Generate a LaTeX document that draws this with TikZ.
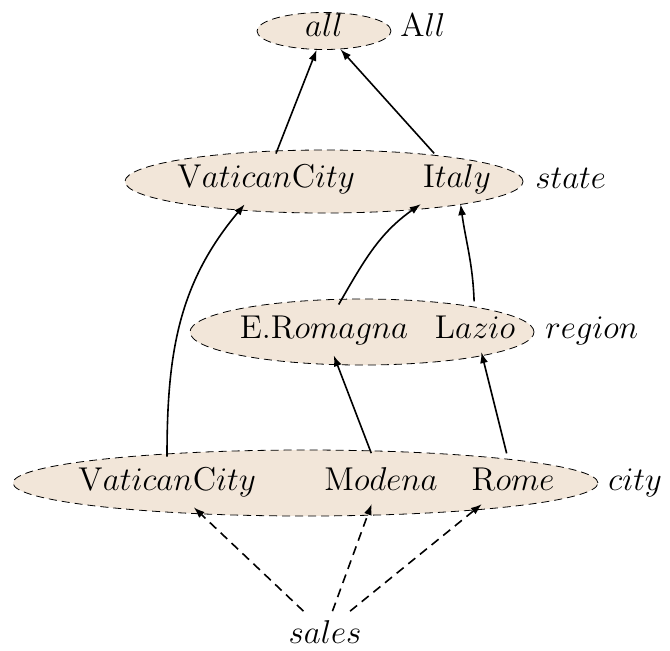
\RequirePackage{fix-cm}
\documentclass[tikz,border=0pt]{standalone}
\usetikzlibrary{arrows.meta,shapes.geometric}
\definecolor{levelfill}{RGB}{242,230,217}
\tikzset{
  level/.style={ellipse, draw=black, line width=0.4pt, dash pattern=on 4pt off 2.5pt,
                fill=levelfill, inner sep=0pt},
  member/.style={inner xsep=3pt, inner ysep=0pt, minimum height=25pt, anchor=base},
  levelname/.style={inner sep=0pt, anchor=base west},
  rollup/.style={line width=0.8pt, -{Latex[length=5.5pt,width=4pt]}},
  fact/.style={line width=0.8pt, dash pattern=on 4.5pt off 3pt, -{Latex[length=5.5pt,width=4pt]}},
}
\begin{document}
\begin{tikzpicture}[x=0.5pt, y=-0.5pt, font=\fontsize{16.5}{19}\selectfont]
\useasboundingbox (0,0) rectangle (670,650);

% dimension levels
\node[level, minimum width=67pt,    minimum height=18.5pt] (allE)   at (324,31)    {};
\node[level, minimum width=199pt,   minimum height=31.5pt] (stateE) at (324,181.5) {};
\node[level, minimum width=172pt,   minimum height=33pt]   (regE)   at (362,332)   {};
\node[level, minimum width=292.5pt, minimum height=33pt]   (cityE)  at (305.5,483) {};

% members
\node[member] (allT) at (324,36)  {$all$};
\node[member] (vcs)  at (266,187) {$\mathrm{V}atican\mathrm{C}ity$};
\node[member] (ity)  at (457,187) {$\mathrm{I}taly$};
\node[member] (erm)  at (324,338) {$\mathrm{E.R}omagna$};
\node[member] (laz)  at (475,338) {$\mathrm{L}azio$};
\node[member] (vcc)  at (167,490) {$\mathrm{V}atican\mathrm{C}ity$};
\node[member] (mod)  at (381,490) {$\mathrm{M}odena$};
\node[member] (rom)  at (513,490) {$\mathrm{R}ome$};
\node[member, minimum height=20pt] (sal) at (325,643) {$sales$};

% level names
\node[levelname] (lAll)    at (400,36)  {$\mathrm{A}ll$};
\node[levelname] (lState)  at (535,188) {$state$};
\node[levelname] (lRegion) at (545,338) {$region$};
\node[levelname] (lCity)   at (608,490) {$city$};

% roll-up relations
\draw[rollup] (vcs) -- (allE);
\draw[rollup] (ity) -- (allE);
\draw[rollup] (vcc) to[out=90,in=-130] (vcs);
\draw[rollup] (erm) to[out=60,in=-145] (ity);
\draw[rollup] (laz) to[out=92,in=-82] (ity);
\draw[rollup] (mod) -- (erm);
\draw[rollup] (rom) -- (laz);

% fact references
\draw[fact] (sal) -- (vcc);
\draw[fact] (sal) -- (mod);
\draw[fact] (sal) -- (rom);
\end{tikzpicture}
\end{document}
